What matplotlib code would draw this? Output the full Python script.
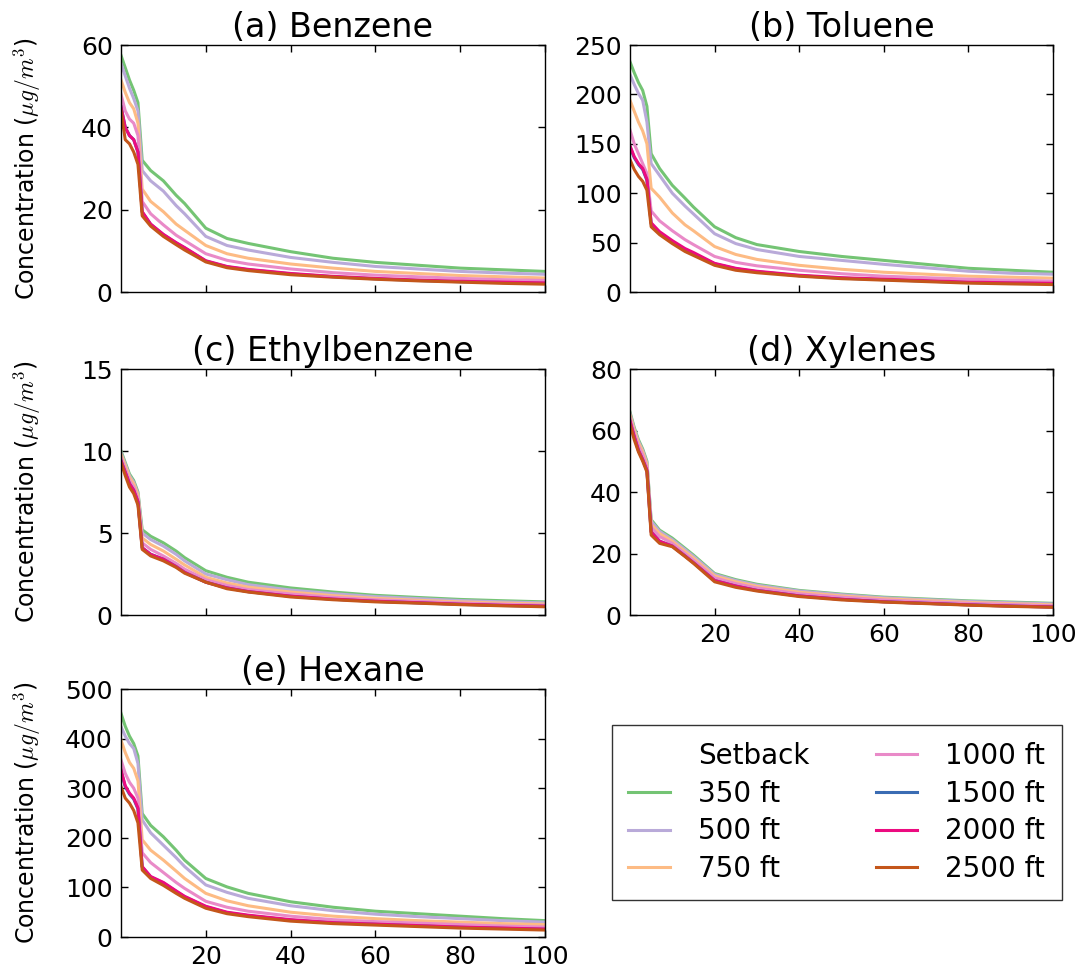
import matplotlib
matplotlib.use("Agg")
import matplotlib.pyplot as plt
from matplotlib.lines import Line2D

plt.rcParams['font.family'] = ['DejaVu Sans']
plt.rcParams['mathtext.fontset'] = 'cm'

x = [0, 1, 2, 3, 4, 5, 7, 10, 13, 15, 20, 25, 30, 40, 50, 60, 70, 80, 90, 100]

setbacks = ['350 ft', '500 ft', '750 ft', '1000 ft', '1500 ft', '2000 ft', '2500 ft']
colors = ['#74c474', '#b9aad9', '#fdbb84', '#e98ac8', '#3a6cb3', '#ec0b80', '#c4561a']

benzene = {
    '350 ft':  [57.5, 54.5, 51.5, 49, 46, 32, 29.5, 27, 23.5, 21.5, 15.5, 13, 11.8, 9.8, 8.2, 7.2, 6.5, 5.8, 5.4, 5.0],
    '500 ft':  [55.5, 52.5, 49.5, 47, 44, 29.5, 27, 24.5, 21, 19, 13.5, 11.3, 10.2, 8.4, 7.2, 6.2, 5.6, 5.0, 4.6, 4.3],
    '750 ft':  [51.5, 48.5, 46, 44.5, 41, 25, 22, 19.5, 16.5, 15, 11.3, 9.3, 8.2, 6.8, 5.8, 5.0, 4.5, 4.0, 3.7, 3.4],
    '1000 ft': [48, 44, 42, 41, 38, 22, 19, 16.3, 13.8, 12.5, 9.3, 7.7, 6.8, 5.6, 4.7, 4.1, 3.7, 3.3, 3.0, 2.8],
    '1500 ft': [45, 40, 38, 37, 34, 19.4, 16.4, 13.9, 11.9, 10.7, 7.5, 6.1, 5.4, 4.4, 3.7, 3.2, 2.8, 2.5, 2.3, 2.1],
    '2000 ft': [45, 40, 38, 37, 34, 19.5, 16.5, 14, 12, 10.8, 7.6, 6.2, 5.5, 4.5, 3.8, 3.3, 2.9, 2.6, 2.4, 2.2],
    '2500 ft': [44, 37, 36, 34, 31, 18.5, 16, 13.5, 11.5, 10.2, 7.3, 5.9, 5.2, 4.2, 3.6, 3.1, 2.7, 2.4, 2.1, 1.9],
}
toluene = {
    '350 ft':  [233, 222, 212, 204, 188, 140, 125, 108, 95, 86, 66, 55, 48, 41, 36, 32, 28, 24, 22, 20],
    '500 ft':  [220, 210, 201, 194, 172, 130, 118, 100, 87, 79, 59, 49, 43, 36, 32, 28, 24.5, 21, 19, 18],
    '750 ft':  [194, 183, 172, 163, 150, 105, 96, 80, 68, 62, 46, 38, 33, 27, 23, 20, 18, 16, 15, 14],
    '1000 ft': [164, 150, 140, 130, 120, 82, 72, 62, 53, 48, 36, 30, 26.5, 22, 18.5, 16, 14.5, 13, 12, 11],
    '1500 ft': [147, 136, 129, 124, 113, 69, 60, 51, 43, 39, 28.5, 23.5, 20.5, 16.5, 14, 12.5, 11, 9.6, 9, 8.4],
    '2000 ft': [148, 137, 130, 125, 114, 70, 61, 52, 44, 40, 29, 24, 21, 17, 14.5, 13, 11.5, 10, 9.3, 8.8],
    '2500 ft': [134, 124, 117, 112, 103, 66, 58, 49, 41, 37, 27, 22, 19.5, 16, 13.5, 12, 10.5, 9, 8.2, 7.5],
}
ethylbenzene = {
    '350 ft':  [10.0, 9.3, 8.6, 8.2, 7.5, 5.2, 4.8, 4.4, 3.9, 3.5, 2.7, 2.3, 2.0, 1.65, 1.4, 1.2, 1.07, 0.95, 0.87, 0.8],
    '500 ft':  [9.9, 9.2, 8.5, 8.1, 7.4, 5.0, 4.6, 4.2, 3.7, 3.3, 2.5, 2.15, 1.85, 1.52, 1.3, 1.12, 1.0, 0.88, 0.8, 0.74],
    '750 ft':  [9.8, 9.1, 8.4, 8.0, 7.3, 4.7, 4.3, 3.9, 3.4, 3.05, 2.3, 1.95, 1.7, 1.4, 1.18, 1.02, 0.9, 0.8, 0.73, 0.67],
    '1000 ft': [9.6, 8.9, 8.2, 7.8, 7.1, 4.4, 4.0, 3.6, 3.15, 2.8, 2.15, 1.8, 1.55, 1.28, 1.08, 0.93, 0.83, 0.73, 0.66, 0.6],
    '1500 ft': [9.4, 8.7, 8.0, 7.6, 6.9, 4.1, 3.7, 3.4, 2.95, 2.6, 2.0, 1.65, 1.42, 1.14, 0.96, 0.83, 0.74, 0.65, 0.58, 0.53],
    '2000 ft': [9.4, 8.7, 8.0, 7.6, 6.9, 4.1, 3.7, 3.4, 2.95, 2.6, 2.0, 1.65, 1.43, 1.15, 0.97, 0.84, 0.75, 0.66, 0.59, 0.54],
    '2500 ft': [9.3, 8.5, 7.8, 7.4, 6.7, 4.0, 3.6, 3.3, 2.9, 2.55, 2.0, 1.6, 1.4, 1.1, 0.93, 0.8, 0.72, 0.63, 0.56, 0.5],
}
xylenes = {
    '350 ft':  [66, 61, 57, 54, 50, 31, 27.6, 25, 21.7, 19.5, 13.5, 11.5, 10, 8, 6.8, 5.8, 5.2, 4.6, 4.2, 3.8],
    '500 ft':  [65.5, 60.5, 56.5, 53.5, 49.5, 30.5, 27.2, 24.5, 21.3, 19.1, 13.2, 11.2, 9.7, 7.8, 6.6, 5.6, 5.0, 4.4, 4.0, 3.6],
    '750 ft':  [65, 60, 56, 53, 49, 29.5, 26.5, 24, 20.7, 18.5, 12.7, 10.8, 9.3, 7.4, 6.2, 5.3, 4.7, 4.1, 3.7, 3.3],
    '1000 ft': [64, 59, 55, 52, 48, 28.5, 25.5, 23.3, 20, 17.8, 12.1, 10.2, 8.8, 6.9, 5.8, 4.9, 4.3, 3.8, 3.4, 3.0],
    '1500 ft': [63, 58, 53.5, 50.5, 47, 27, 24, 22.4, 19.2, 17, 11.2, 9.4, 8.0, 6.2, 5.1, 4.3, 3.8, 3.3, 2.9, 2.6],
    '2000 ft': [63, 58, 53.5, 50.5, 47, 27, 24, 22.4, 19.2, 17, 11.2, 9.4, 8.0, 6.2, 5.1, 4.3, 3.8, 3.3, 2.9, 2.6],
    '2500 ft': [62, 57, 53, 50, 46.5, 26, 23.3, 22.2, 19, 16.8, 10.8, 9, 7.8, 6.0, 4.9, 4.2, 3.7, 3.2, 2.8, 2.5],
}
hexane = {
    '350 ft':  [451, 425, 405, 390, 365, 249, 225, 202, 175, 155, 118, 101, 88, 71, 60, 52, 47, 42, 37, 33],
    '500 ft':  [424, 405, 390, 380, 350, 236, 210, 185, 160, 142, 105, 90, 78, 63, 53, 46, 41, 37, 33, 30],
    '750 ft':  [397, 372, 352, 340, 315, 196, 175, 155, 133, 118, 88, 73, 63, 50, 42, 37, 33, 30, 27, 25],
    '1000 ft': [357, 330, 312, 300, 280, 170, 150, 130, 110, 98, 72, 60, 52, 42, 35, 31, 28, 25, 22, 20],
    '1500 ft': [335, 303, 288, 278, 258, 141, 121, 109, 92, 81, 61, 49, 43, 34, 28.5, 25.5, 22.5, 19.5, 17.5, 15.5],
    '2000 ft': [337, 305, 290, 280, 260, 142, 122, 110, 93, 82, 62, 50, 44, 35, 29, 26, 23, 20, 18, 16],
    '2500 ft': [303, 280, 270, 255, 230, 135, 118, 104, 88, 78, 58, 47, 41, 32, 27, 24, 21, 18, 16, 14],
}

panels = [
    ('(a) Benzene', benzene, [0, 20, 40, 60]),
    ('(b) Toluene', toluene, [0, 50, 100, 150, 200, 250]),
    ('(c) Ethylbenzene', ethylbenzene, [0, 5, 10, 15]),
    ('(d) Xylenes', xylenes, [0, 20, 40, 60, 80]),
    ('(e) Hexane', hexane, [0, 100, 200, 300, 400, 500]),
]

W, H = 1081, 972
fig = plt.figure(figsize=(W / 100, H / 100), dpi=100)

# axes boxes in pixels: left, top, right, bottom
boxes = [(121, 45, 545, 292), (630, 45, 1053, 292),
         (121, 369, 545, 615), (630, 369, 1053, 615),
         (121, 689, 545, 937)]

for i, (title, data, yt) in enumerate(panels):
    l, t, r, b = boxes[i]
    ax = fig.add_axes([l / W, 1 - b / H, (r - l) / W, (b - t) / H])
    for s, c in zip(setbacks, colors):
        ax.plot(x, data[s], color=c, lw=2.2, label=s)
    ax.set_xlim(0, 100)
    ax.set_ylim(yt[0], yt[-1])
    ax.set_yticks(yt)
    ax.set_xticks([20, 40, 60, 80, 100])
    ax.tick_params(direction='in', top=True, right=True, length=5, width=1,
                   labelsize=18, pad=6)
    if i in (0, 1, 2):
        ax.tick_params(labelbottom=False)
    for sp in ax.spines.values():
        sp.set_linewidth(1.0)
    ax.set_title(title, fontsize=24, pad=6)
    if i % 2 == 0:
        ax.set_ylabel(r'Concentration ($\mu g/m^3$)', fontsize=17)
        ax.yaxis.set_label_coords(-0.185, 0.5)

handles = [Line2D([], [], color='none')]
handles += [Line2D([], [], color=c, lw=2.2) for c in colors]
labels = ['Setback'] + setbacks
fig.legend(handles, labels, ncol=2, loc='center', bbox_to_anchor=(0.774, 0.164),
           fontsize=20, handlelength=1.5, handletextpad=1.0, columnspacing=2.4,
           labelspacing=0.35, frameon=True, fancybox=False, edgecolor='black',
           borderpad=0.6)

fig.savefig('out.png', dpi=100)
